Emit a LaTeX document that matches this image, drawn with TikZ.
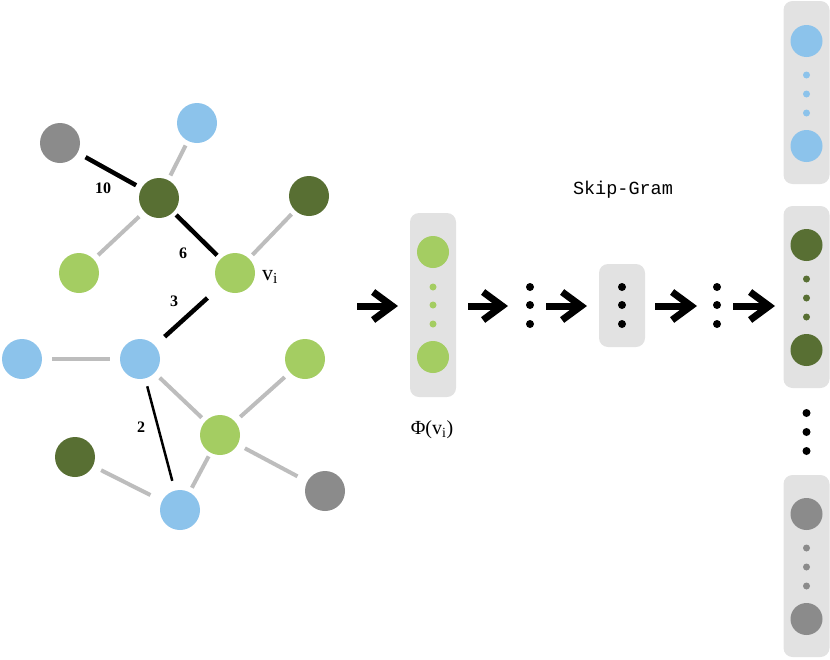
\documentclass[tikz,border=0pt]{standalone}
\usepackage{fontspec}
\setmainfont{Liberation Serif}
\setmonofont{Liberation Mono}
\usetikzlibrary{arrows.meta}

\definecolor{nodeblue}{HTML}{8CC3EB}
\definecolor{nodedark}{HTML}{586F33}
\definecolor{nodelight}{HTML}{A4CD62}
\definecolor{nodegray}{HTML}{8B8B8B}
\definecolor{edgegray}{HTML}{BDBDBD}
\definecolor{boxgray}{HTML}{E2E2E2}

\tikzset{
    vert/.style={circle, fill=#1, minimum size=40, inner sep=0pt},
    unit/.style={circle, fill=#1, minimum size=32, inner sep=0pt},
    dot/.style={circle, fill=#1, minimum size=7, inner sep=0pt},
    weak/.style={edgegray, line width=4, shorten <=5, shorten >=5},
    strong/.style={black, line width=4.5},
    weight/.style={font=\fontsize{16}{19}\selectfont\bfseries},
    vecbox/.style={rounded corners=9, fill=boxgray, minimum width=46, inner sep=0pt},
    bigarrow/.style={line width=7, -{Straight Barb[length=19pt, width=28pt, sharp]}},
}

\begin{document}
\begin{tikzpicture}[x=1pt,y=-1pt]
            % Fix the canvas to the size of the figure
            \useasboundingbox (0,0) rectangle (830,659);

            % Define the columns of the embedding part
            \def\xa{433}    % column of Phi(v_i)
            \def\xb{530}    % first dots
            \def\xc{622}    % hidden layer
            \def\xd{717}    % second dots
            \def\xe{806.5}  % output column
            \def\ym{306}    % height of the arrows

            % Draw the upper part of the graph
            \node[vert=nodegray]  (G1) at (60,143) {};
            \node[vert=nodeblue]  (B1) at (197,123) {};
            \node[vert=nodedark]  (D1) at (159,198) {};
            \node[vert=nodedark]  (D2) at (309,196) {};
            \node[vert=nodelight] (L1) at (79,273) {};
            \node[vert=nodelight] (Vi) at (235,273) {};

            % Draw the lower part of the graph
            \node[vert=nodeblue]  (B2) at (22,359) {};
            \node[vert=nodeblue]  (B3) at (140,359) {};
            \node[vert=nodelight] (L2) at (305,359) {};
            \node[vert=nodelight] (L3) at (220,435) {};
            \node[vert=nodedark]  (D3) at (75,457) {};
            \node[vert=nodeblue]  (B4) at (180,510) {};
            \node[vert=nodegray]  (G2) at (325,491) {};

            % Draw the grey edges
            \draw[weak] (B1) -- (D1);
            \draw[weak, shorten <=7, shorten >=6] (D1) -- (L1);
            \draw[weak] (Vi) -- (D2);
            \draw[weak, shorten <=10, shorten >=10] (B2) -- (B3);
            \draw[weak, shorten <=7] (B3) -- (L3);
            \draw[weak, shorten <=7, shorten >=7] (L3) -- (L2);
            \draw[weak, shorten <=8, shorten >=11] (L3) -- (G2);
            \draw[weak, shorten <=4] (L3) -- (B4);
            \draw[weak, shorten <=9, shorten >=13] (D3) -- (B4);

            % Draw the walk and its weights
            \draw[strong, shorten <=9, shorten >=6] (G1) -- (D1);
            \draw[strong, shorten <=4, shorten >=5] (D1) -- (Vi);
            \draw[strong, shorten <=17, shorten >=13] (Vi) -- (B3);
            \draw[strong, line width=2.5, shorten <=8, shorten >=10] (B3) -- (B4);
            \node[weight] (W10) at (103,188) {10};
            \node[weight] (W6)  at (183,253) {6};
            \node[weight] (W3)  at (174,301) {3};
            \node[weight] (W2)  at (141,427) {2};
            \node[anchor=west, inner sep=0pt, font=\fontsize{22}{26}\selectfont] (Lvi) at (262,277) {v\textsubscript{i}};

            % Draw the embedding of v_i
            \node[vecbox, minimum height=184] (P) at (\xa,305) {};
            \node[unit=nodelight] (P1) at (\xa,252) {};
            \node[dot=nodelight]  (P2) at (\xa,287) {};
            \node[dot=nodelight]  (P3) at (\xa,305) {};
            \node[dot=nodelight]  (P4) at (\xa,324) {};
            \node[unit=nodelight] (P5) at (\xa,357) {};
            \node[font=\fontsize{20}{24}\selectfont] (Phi) at (432,430) {Φ(v\textsubscript{i})};

            % Draw the hidden layers
            \node[dot=black, minimum size=8] (M1) at (\xb,287) {};
            \node[dot=black, minimum size=8] (M2) at (\xb,305) {};
            \node[dot=black, minimum size=8] (M3) at (\xb,324) {};
            \node[vecbox, minimum height=83] (H) at (\xc,305.5) {};
            \node[dot=black, minimum size=8] (H1) at (\xc,287) {};
            \node[dot=black, minimum size=8] (H2) at (\xc,305) {};
            \node[dot=black, minimum size=8] (H3) at (\xc,324) {};
            \node[dot=black, minimum size=8] (N1) at (\xd,287) {};
            \node[dot=black, minimum size=8] (N2) at (\xd,305) {};
            \node[dot=black, minimum size=8] (N3) at (\xd,324) {};
            \node[font=\ttfamily\fontsize{18.5}{22}\selectfont] (SG) at (623,190) {Skip-Gram};

            % Draw the output column
            \node[vecbox, minimum height=183] (O1) at (\xe,92.5) {};
            \node[unit=nodeblue] (O11) at (\xe,41) {};
            \node[dot=nodeblue]  (O12) at (\xe,75) {};
            \node[dot=nodeblue]  (O13) at (\xe,94) {};
            \node[dot=nodeblue]  (O14) at (\xe,113) {};
            \node[unit=nodeblue] (O15) at (\xe,146) {};
            \node[vecbox, minimum height=182] (O2) at (\xe,297) {};
            \node[unit=nodedark] (O21) at (\xe,245) {};
            \node[dot=nodedark]  (O22) at (\xe,279) {};
            \node[dot=nodedark]  (O23) at (\xe,298) {};
            \node[dot=nodedark]  (O24) at (\xe,317) {};
            \node[unit=nodedark] (O25) at (\xe,350) {};
            \node[dot=black, minimum size=8] (K1) at (\xe,413) {};
            \node[dot=black, minimum size=8] (K2) at (\xe,432) {};
            \node[dot=black, minimum size=8] (K3) at (\xe,451) {};
            \node[vecbox, minimum height=182] (O3) at (\xe,566) {};
            \node[unit=nodegray] (O31) at (\xe,514) {};
            \node[dot=nodegray]  (O32) at (\xe,548) {};
            \node[dot=nodegray]  (O33) at (\xe,567) {};
            \node[dot=nodegray]  (O34) at (\xe,586) {};
            \node[unit=nodegray] (O35) at (\xe,619) {};

            % Draw the arrows
            \coordinate (A1) at (357,\ym);
            \coordinate (A2) at (398,\ym);
            \coordinate (A3) at (468,\ym);
            \coordinate (A4) at (508,\ym);
            \coordinate (A5) at (546,\ym);
            \coordinate (A6) at (587,\ym);
            \coordinate (A7) at (655,\ym);
            \coordinate (A8) at (697,\ym);
            \coordinate (A9) at (733,\ym);
            \coordinate (A10) at (775,\ym);
            \draw[bigarrow] (A1) -- (A2);
            \draw[bigarrow] (A3) -- (A4);
            \draw[bigarrow] (A5) -- (A6);
            \draw[bigarrow] (A7) -- (A8);
            \draw[bigarrow] (A9) -- (A10);
\end{tikzpicture}
\end{document}
